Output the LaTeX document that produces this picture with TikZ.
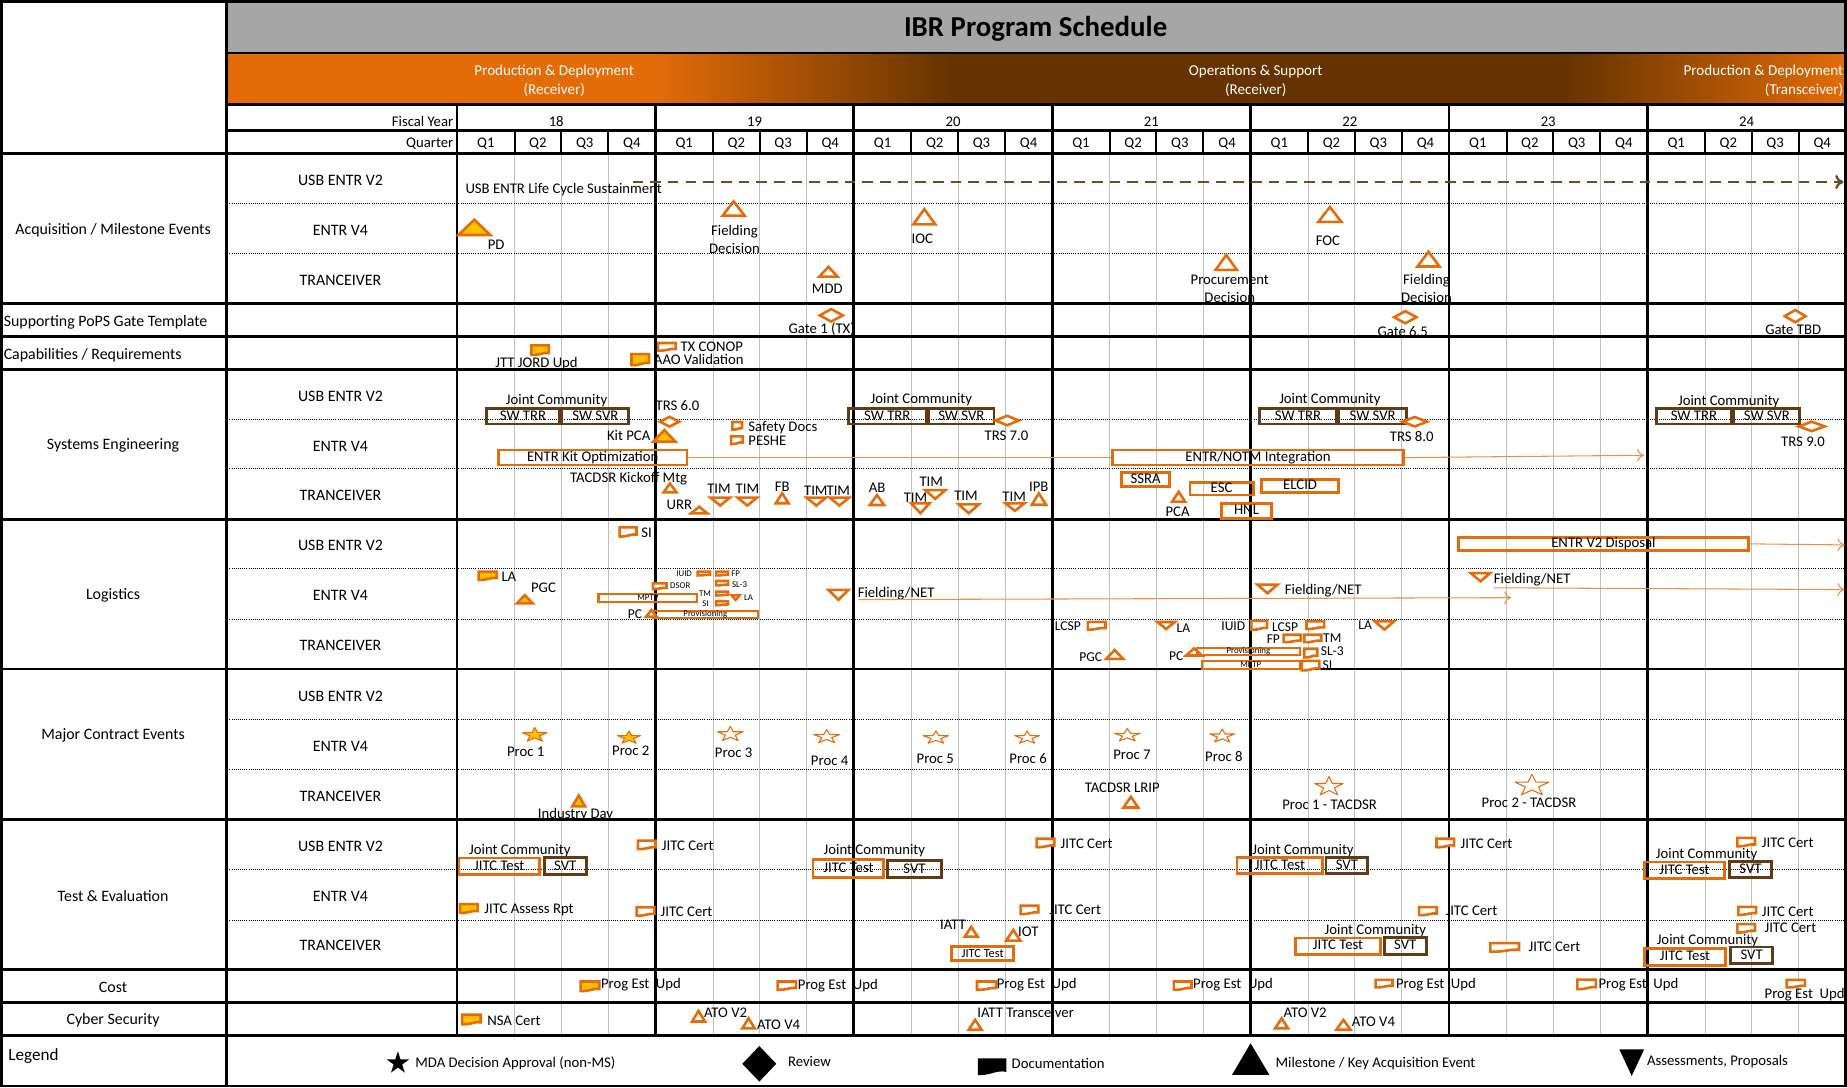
\documentclass[tikz,border=0pt]{standalone}
\usepackage{fontspec}
\setmainfont{Carlito}
\usetikzlibrary{arrows.meta}

\definecolor{mkorg}{HTML}{E46C0A}
\definecolor{mkyel}{HTML}{FFC000}
\definecolor{bandorg}{HTML}{E36C09}
\definecolor{bandbrn}{HTML}{663300}
\definecolor{boxbrn}{HTML}{633A14}
\definecolor{lcbrn}{HTML}{704A22}
\definecolor{ttlgray}{HTML}{A6A6A6}
\definecolor{qgray}{HTML}{C0C0C0}

\tikzset{
  thk/.style={line width=2.4pt},
  qsep/.style={line width=1.8pt},
  qline/.style={draw=qgray, line width=0.8pt},
  rowdots/.style={densely dotted, line width=0.8pt},
  hd/.style={font=\fontsize{13.5}{16}\selectfont, inner sep=0pt, yshift=-1.3pt},
  lbl/.style={font=\fontsize{12.5}{15.3}\selectfont, inner sep=0pt, align=center, yshift=-1.3pt},
  sml/.style={font=\fontsize{11.5}{13}\selectfont, inner sep=0pt, yshift=-1pt},
  tny/.style={font=\fontsize{7.5}{8}\selectfont, inner sep=0pt, yshift=-0.6pt},
  band/.style={font=\fontsize{12.8}{16}\selectfont, text=white, inner sep=0pt, yshift=-1.5pt},
  mk/.style={draw=mkorg, line width=2.2pt, fill=white, line join=miter},
  mkf/.style={mk, fill=mkyel},
  ev/.style={draw=mkorg, line width=0.9pt, fill=white, line join=round},
  evf/.style={ev, fill=mkyel},
  orgbox/.style={draw=mkorg, line width=2.2pt, inner sep=0pt, text height=8.5pt, text depth=2pt, font=\fontsize{12.5}{14}\selectfont},
  brnbox/.style={draw=boxbrn, line width=2.4pt, inner sep=0pt, text height=8.5pt, text depth=2pt, font=\fontsize{12.5}{14}\selectfont},
  tnybox/.style={draw=mkorg, line width=2pt, inner sep=0pt, text height=5pt, text depth=1pt, font=\fontsize{7.5}{8}\selectfont},
  link/.style={draw=mkorg!75, line width=0.9pt},
  linkarr/.style={link, -{To[length=6pt,width=11pt]}},
  upm/.pic={\draw[mk] (-9,6) -- (9,6) -- (0,-6) -- cycle;},
  upf/.pic={\draw[mkf] (-9,6) -- (9,6) -- (0,-6) -- cycle;},
  dnm/.pic={\draw[mk] (-8.5,-4) -- (8.5,-4) -- (0,4) -- cycle;},
  revm/.pic={\draw[mk] (-10.5,0) -- (0,-5.5) -- (10.5,0) -- (0,5.5) -- cycle;},
  docm/.pic={\draw[mk] (-7.5,-3.5) -- (7.5,-3.5) -- (7.5,2.5) .. controls (3,1.5) and (0,4.5) .. (-7.5,4) -- cycle;},
  docf/.pic={\draw[mkf] (-7.5,-3.5) -- (7.5,-3.5) -- (7.5,2.5) .. controls (3,1.5) and (0,4.5) .. (-7.5,4) -- cycle;},
  starm/.pic={\draw[ev, yscale=0.58] (270:11) -- (306:4.2) -- (342:11) -- (18:4.2) -- (54:11) -- (90:4.2) -- (126:11) -- (162:4.2) -- (198:11) -- (234:4.2) -- cycle;},
  starf/.pic={\draw[evf, yscale=0.58] (270:11) -- (306:4.2) -- (342:11) -- (18:4.2) -- (54:11) -- (90:4.2) -- (126:11) -- (162:4.2) -- (198:11) -- (234:4.2) -- cycle;}
}

\begin{document}
\begin{tikzpicture}[x=1pt,y=-1pt]
\useasboundingbox (0,0) rectangle (1568,923);

\fill[ttlgray] (192,0) rectangle (1567,45);
\fill[bandorg] (192,45) rectangle (556.5,89);
\shade[left color=bandorg, right color=bandbrn] (556,45) rectangle (807.5,89);
\fill[bandbrn] (807,45) rectangle (1329.5,89);
\shade[left color=bandbrn, right color=bandorg] (1329,45) rectangle (1567,89);

\foreach \yr [count=\i from 0] in {18,...,24} {
  \pgfmathsetmacro\ys{388+\i*168.43}
  \foreach \f in {0.29,0.525,0.762} {
    \draw[qline] ({\ys+\f*168.43},130) -- ({\ys+\f*168.43},879);
    \draw[qsep] ({\ys+\f*168.43},111) -- ({\ys+\f*168.43},130);
  }
  \draw[thk] (\ys,89) -- (\ys,879);
  \node[lbl] (fy\yr) at ({\ys+84.2},102) {\yr};
  \foreach \q/\fa/\fb in {1/0/0.29,2/0.29/0.525,3/0.525/0.762,4/0.762/1}
    \node[lbl] (q\yr\q) at ({\ys+(\fa+\fb)*84.215},121) {Q\q};
}

\foreach \yy in {173,215,356,398,483,526,611,653,738,781}
  \draw[rowdots] (193,\yy) -- (1567,\yy);

\draw[thk] (1,1) rectangle (1567,922);
\draw[thk] (192,0) -- (192,923);
\draw[thk] (192,45) -- (1567,45);
\draw[thk] (192,89) -- (1567,89);
\draw[thk] (192,111) -- (1567,111);
\foreach \yy in {130,258,286,314,441,568,696,823,851,879}
  \draw[thk] (0,\yy) -- (1568,\yy);

\node[font=\bfseries\fontsize{24.5}{28}\selectfont, inner sep=0pt] (ttl) at (879.2,24.5) {IBR Program Schedule};
\node[band, align=center] (ph1) at (470.5,67) {Production \& Deployment\\(Receiver)};
\node[band, align=center] (ph2) at (1066,67) {Operations \& Support\\(Receiver)};
\node[band, align=right, anchor=east] (ph3) at (1565,67) {Production \& Deployment\\(Transceiver)};
\node[lbl, anchor=east] (fyl) at (385,102) {Fiscal Year};
\node[lbl, anchor=east] (qtl) at (385,121) {Quarter};

\node[hd] (acq) at (96,194) {Acquisition / Milestone Events};
\node[hd, anchor=west] (pops) at (3,272) {Supporting PoPS Gate Template};
\node[hd, anchor=west] (caps) at (3,300) {Capabilities / Requirements};
\node[hd] (se) at (96,377) {Systems Engineering};
\node[hd] (logi) at (96,504) {Logistics};
\node[hd] (mce) at (96,623) {Major Contract Events};
\node[hd] (te) at (96,759) {Test \& Evaluation};
\node[hd] (cost) at (96,837) {Cost};
\node[hd] (cyb) at (96,865) {Cyber Security};
\node[font=\fontsize{14.5}{16}\selectfont, inner sep=0pt, anchor=west] (leg) at (7,896.5) {Legend};

\foreach \s/\yy in {a/152,s/335,l/462,m/590,t/717} {
  \node[hd] (usb\s) at (289,\yy) {USB ENTR V2};
  \node[hd] (v4\s) at (289,{\yy+42.3}) {ENTR V4};
  \node[hd] (trx\s) at (289,{\yy+84.6}) {TRANCEIVER};
}

\node[lbl, anchor=west] (lcsus) at (395,160) {USB ENTR Life Cycle Sustainment};
\coordinate (lc0) at (537,154.5);
\coordinate (lc1) at (1565,154.5);
\draw[draw=lcbrn, line width=2pt, dash pattern=on 9pt off 6pt, -{To[length=7pt,width=12pt]}] (lc0) -- (lc1);

\pic[xscale=1.5, yscale=1.08] (pd) at (402.7,193) {upf};
\node[lbl] (pdl) at (421.2,206.6) {PD};
\pic[xscale=1.03] (fd) at (622.8,177) {upm};
\node[lbl] (fdl) at (623.5,202.3) {Fielding\\Decision};
\pic[xscale=1.04, yscale=1.08] (ioc) at (784.7,184) {upm};
\node[lbl] (iocl) at (782.9,201.5) {IOC};
\pic[xscale=1.08, yscale=1.05] (foc) at (1129,182) {upm};
\node[lbl] (focl) at (1127.3,203.2) {FOC};
\pic[xscale=0.87, yscale=0.7] (mdd) at (703.3,230.7) {upm};
\node[lbl] (mddl) at (702.3,243.9) {MDD};
\pic[yscale=1.05] (prd) at (1041,222.8) {upm};
\node[lbl] (prdl) at (1044,243.6) {Procurement\\Decision};
\pic[xscale=1.04, yscale=1.04] (fdt) at (1212.7,220) {upm};
\node[lbl] (fdtl) at (1211,243.8) {Fielding\\Decision};

\pic[xscale=0.93, yscale=0.96] (g1) at (705.7,267.7) {revm};
\node[lbl] (g1l) at (697.6,277.9) {Gate 1 (TX)};
\pic[xscale=0.9, yscale=0.94] (g65) at (1193,269.3) {revm};
\node[lbl] (g65l) at (1190.8,280.4) {Gate 6.5};
\pic[xscale=0.84, yscale=0.94] (gtbd) at (1524,268.4) {revm};
\node[lbl] (gtbdl) at (1522.3,278.7) {Gate TBD};

\pic[yscale=1.07] (jord) at (458.5,297) {docf};
\node[lbl] (jordl) at (455.5,307) {JTT JORD Upd};
\pic[yscale=1.25] (aao) at (543.6,305) {docf};
\node[lbl, anchor=west] (aaol) at (555,303.6) {AAO Validation};
\pic[yscale=0.86] (txc) at (566.2,294.2) {docm};
\node[lbl, anchor=west] (txcl) at (577.5,293.4) {TX CONOP};

\node[lbl] (jcs1) at (472.5,339) {Joint Community};
\node[brnbox, minimum width=61.8pt, minimum height=12.8pt] (trr1) at (444,353.5) {SW TRR};
\node[brnbox, minimum width=56.8pt, minimum height=12.8pt] (svr1) at (505.5,353.5) {SW SVR};
\node[lbl] (jcs2) at (782.2,338.2) {Joint Community};
\node[brnbox, minimum width=65.6pt, minimum height=12.8pt] (trr2) at (753.3,353.5) {SW TRR};
\node[brnbox, minimum width=55.6pt, minimum height=12.8pt] (svr2) at (816.1,353.5) {SW SVR};
\node[lbl] (jcs3) at (1129,338.2) {Joint Community};
\node[brnbox, minimum width=64.9pt, minimum height=12.8pt] (trr3) at (1101.9,353.5) {SW TRR};
\node[brnbox, minimum width=57.5pt, minimum height=12.8pt] (svr3) at (1165.3,353.5) {SW SVR};
\node[lbl] (jcs4) at (1467.6,339.6) {Joint Community};
\node[brnbox, minimum width=63.9pt, minimum height=12.8pt] (trr4) at (1438,353.5) {SW TRR};
\node[brnbox, minimum width=55.8pt, minimum height=12.8pt] (svr4) at (1500,353.5) {SW SVR};

\node[lbl] (trs6l) at (575.1,343.2) {TRS 6.0};
\pic[xscale=0.78, yscale=0.75] (trs6) at (568.4,358) {revm};
\pic[xscale=0.95, yscale=0.73] (trs7) at (855,357) {revm};
\node[lbl] (trs7l) at (854.4,368.7) {TRS 7.0};
\pic[yscale=0.73] (trs8) at (1201,358) {revm};
\node[lbl] (trs8l) at (1198.5,369.3) {TRS 8.0};
\pic[xscale=1.05, yscale=0.73] (trs9) at (1538,362) {revm};
\node[lbl] (trs9l) at (1530.7,373.5) {TRS 9.0};

\node[lbl, anchor=east] (kpcal) at (552.3,368.4) {Kit PCA};
\pic[xscale=1.04, yscale=0.82] (kpca) at (564,370) {upf};
\pic[xscale=0.55, yscale=0.86] (sfd) at (625.8,361.3) {docm};
\node[lbl, anchor=west] (sfdl) at (635.2,361.4) {Safety Docs};
\pic[xscale=0.66, yscale=0.86] (psh) at (625.6,373.5) {docm};
\node[lbl, anchor=west] (pshl) at (635.2,372.7) {PESHE};

\node[orgbox, minimum width=159.8pt, minimum height=12.8pt] (kitopt) at (503.2,388.5) {ENTR Kit Optimization};
\node[orgbox, minimum width=247.3pt, minimum height=12.8pt] (notm) at (1068,388.5) {ENTR/NOTM Integration};
\coordinate (notmend) at (1395.8,386.5);
\draw[link] (kitopt.east) -- (notm.west);
\draw[linkarr] (notm.east) -- (notmend);

\node[lbl] (tkml) at (533.7,405.2) {TACDSR Kickoff Mtg};
\pic[xscale=0.61, yscale=0.63] (tkm) at (568.8,414.2) {upm};
\node[lbl] (urrl) at (576.8,427.3) {URR};
\pic[xscale=0.77, yscale=0.46] (urr) at (593.6,433) {upm};
\pic[xscale=0.97, yscale=0.84] (tim1) at (611.4,425.8) {dnm};
\node[lbl] (tim1l) at (610.4,413.7) {TIM};
\pic[xscale=0.97, yscale=0.84] (tim2) at (634.4,425.8) {dnm};
\node[lbl] (tim2l) at (634.5,413.7) {TIM};
\pic[xscale=0.6, yscale=0.7] (fb) at (664,423) {upm};
\node[lbl] (fbl) at (664,411.7) {FB};
\pic[xscale=0.97, yscale=0.84] (tim3) at (693,425.8) {dnm};
\node[lbl] (tim3l) at (692.6,415.4) {TIM};
\pic[xscale=0.97, yscale=0.84] (tim4) at (712.6,425.8) {dnm};
\node[lbl] (tim4l) at (711.7,415.4) {TIM};
\pic[xscale=0.67, yscale=0.7] (ab) at (744.5,424.5) {upm};
\node[lbl] (abl) at (744.6,413.2) {AB};
\pic[xscale=0.91, yscale=1.04] (tim5) at (781.4,431.5) {dnm};
\node[lbl] (tim5l) at (777.2,421.6) {TIM};
\pic[yscale=0.92] (tim6) at (794,419.8) {dnm};
\node[lbl] (tim6l) at (790.6,408.1) {TIM};
\pic[yscale=0.94] (tim7) at (822.4,432) {dnm};
\node[lbl] (tim7l) at (820.1,419.4) {TIM};
\pic[xscale=0.94, yscale=0.79] (tim8) at (861.6,430.5) {dnm};
\node[lbl] (tim8l) at (861,420.2) {TIM};
\pic[xscale=0.67, yscale=0.8] (ipb) at (882,423.7) {upm};
\node[lbl] (ipbl) at (881.9,411.7) {IPB};

\node[orgbox, minimum width=40.8pt, minimum height=11.8pt] (ssra) at (972.5,407) {SSRA};
\pic[xscale=0.61, yscale=0.7] (pca) at (1000.6,421.7) {upm};
\node[lbl] (pcal) at (999.7,433.5) {PCA};
\node[orgbox, minimum width=53.8pt, minimum height=9.8pt] (esc) at (1037,415) {ESC};
\node[orgbox, minimum width=65.2pt, minimum height=11.2pt] (elcid) at (1103.7,412.7) {ELCID};
\node[orgbox, minimum width=42pt, minimum height=12.3pt] (hnl) at (1058.2,433.8) {HNL};

\pic[xscale=0.95, yscale=1.03] (si1) at (533.2,451.3) {docm};
\node[lbl] (si1l) at (549,451.4) {SI};
\node[orgbox, minimum width=246.2pt, minimum height=11.1pt] (v2disp) at (1361.2,461.7) {ENTR V2 Disposal};
\coordinate (v2end) at (1566,462.6);
\draw[linkarr] (v2disp.east) -- (v2end);

\pic[xscale=1.03, yscale=0.93] (la1) at (414,488.5) {docf};
\node[lbl] (la1l) at (432,488) {LA};
\node[lbl] (pgc1l) at (461.4,498) {PGC};
\pic[xscale=0.74, yscale=0.58] (pgc1) at (445.5,508.7) {upf};
\node[tnybox, minimum width=83.8pt, minimum height=6.8pt] (mptp1) at (550,507.5) {MPTP};
\node[tnybox, minimum width=89.4pt, minimum height=5.5pt] (prov1) at (598.8,521.7) {Provisioning};
\pic[xscale=0.7, yscale=0.43] (iuid1) at (597.5,486.8) {docm};
\node[tny] (iuid1l) at (580.8,486.1) {IUID};
\pic[xscale=0.68, yscale=0.43] (fp1) at (613,486.8) {docm};
\node[tny] (fp1l) at (624.5,486.5) {FP};
\pic[xscale=0.77, yscale=0.64] (dsor1) at (560,497.5) {docm};
\node[tny] (dsor1l) at (577.5,496.5) {DSOR};
\pic[xscale=0.68, yscale=0.5] (sl31) at (613,495) {docm};
\node[tny] (sl31l) at (627.8,495.5) {SL-3};
\pic[xscale=0.68, yscale=0.43] (tm1) at (613,503.8) {docm};
\node[tny] (tm1l) at (598.6,503) {TM};
\pic[xscale=0.41, yscale=0.5] (la2) at (624.5,507.2) {dnm};
\node[tny] (la2l) at (635.5,507) {LA};
\pic[xscale=0.68, yscale=0.45] (si2) at (613,512) {docm};
\node[tny] (si2l) at (599,512) {SI};
\node[sml] (pc1l) at (539,520.7) {PC};
\pic[xscale=0.5, yscale=0.47] (pc1) at (553,520.7) {upm};

\pic[yscale=1.05] (fn1) at (711.8,505) {dnm};
\node[lbl, anchor=west] (fn1l) at (728,503) {Fielding/NET};
\coordinate (fn1a) at (729,509);
\coordinate (fn1b) at (1283,507.4);
\draw[linkarr] (fn1a) -- (fn1b);
\pic[yscale=0.92] (fn2) at (1076,500) {dnm};
\node[lbl, anchor=west] (fn2l) at (1090.6,500) {Fielding/NET};
\pic[xscale=0.97, yscale=0.87] (fn3) at (1256.8,490) {dnm};
\node[lbl, anchor=west] (fn3l) at (1268,491) {Fielding/NET};
\coordinate (fn3a) at (1268,499);
\coordinate (fn3b) at (1566,500.5);
\draw[linkarr] (fn3a) -- (fn3b);

\node[sml] (lcsp1l) at (906.5,530.6) {LCSP};
\pic[yscale=0.86] (lcsp1) at (931,531) {docm};
\pic[xscale=0.88, yscale=0.75] (la3) at (990,531) {dnm};
\node[sml] (la3l) at (1004.7,532) {LA};
\node[sml] (pgc2l) at (926,556.9) {PGC};
\pic[xscale=0.8, yscale=0.62] (pgc2) at (946.3,555.6) {upm};
\node[sml] (pc2l) at (998.5,556) {PC};
\pic[xscale=0.75, yscale=0.5] (pc2) at (1013.7,553.5) {upm};
\node[tnybox, minimum width=87.3pt, minimum height=6.2pt] (prov2) at (1059.8,553.2) {Provisioning};
\node[tnybox, minimum width=83.3pt, minimum height=6.8pt] (mptp2) at (1061.8,564.5) {MPTP};
\node[sml] (iuid2l) at (1047,530.6) {IUID};
\pic[xscale=0.9] (iuid2) at (1069,530.6) {docm};
\node[sml] (lcsp2l) at (1091,531.4) {LCSP};
\pic[yscale=0.86] (lcsp2) at (1116.6,530.5) {docm};
\node[sml] (la4l) at (1159,529.7) {LA};
\pic[xscale=0.96, yscale=0.87] (la4) at (1175.3,531) {dnm};
\node[sml] (fp2l) at (1081,541.3) {FP};
\pic[xscale=0.97, yscale=0.84] (fp2) at (1097,541.8) {docm};
\pic[xscale=0.97, yscale=0.84] (tm2) at (1114.5,541.8) {docm};
\node[sml] (tm2l) at (1131,541) {TM};
\pic[xscale=0.74, yscale=0.98] (sl32) at (1112.8,554.2) {docm};
\node[sml] (sl32l) at (1131,551.6) {SL-3};
\pic[yscale=1.07] (si3) at (1112.5,564.8) {docm};
\node[sml] (si3l) at (1127,564) {SI};

\pic (p1) at (454,624) {starf};
\node[lbl] (p1l) at (446.3,636.7) {Proc 1};
\pic[xscale=0.93, yscale=0.9] (p2) at (534,626.3) {starf};
\node[lbl] (p2l) at (535.5,636) {Proc 2};
\pic[xscale=1.03, yscale=1.05] (p3) at (620,623.3) {starm};
\node[lbl] (p3l) at (622.8,638) {Proc 3};
\pic[xscale=1.05, yscale=0.95] (p4) at (701.8,625.5) {starm};
\node[lbl] (p4l) at (704.3,644.6) {Proc 4};
\pic[xscale=1.03, yscale=0.9] (p5) at (794.5,626.3) {starm};
\node[lbl] (p5l) at (794,643) {Proc 5};
\pic[yscale=0.9] (p6) at (872,626.3) {starm};
\node[lbl] (p6l) at (872.8,642.4) {Proc 6};
\pic[xscale=1.05, yscale=0.9] (p7) at (957,624.3) {starm};
\node[lbl] (p7l) at (961,639.5) {Proc 7};
\pic[yscale=0.95] (p8) at (1037.6,625) {starm};
\node[lbl] (p8l) at (1039,641) {Proc 8};
\node[lbl] (indl) at (488.6,689.9) {Industry Day};
\pic[xscale=0.61, yscale=0.77] (ind) at (491.3,680) {upf};
\node[lbl] (lripl) at (952.7,667.8) {TACDSR LRIP};
\pic[xscale=0.69, yscale=0.75] (lrip) at (960,681) {upm};
\pic[xscale=1.15, yscale=1.35] (pt1) at (1128.2,667.8) {starm};
\node[lbl] (pt1l) at (1128.7,682) {Proc 1 - TACDSR};
\pic[xscale=1.37, yscale=1.5] (pt2) at (1300.5,667) {starm};
\node[lbl] (pt2l) at (1298,680) {Proc 2 - TACDSR};

\node[lbl] (jct1) at (441.3,721) {Joint Community};
\node[orgbox, minimum width=68.2pt, minimum height=14.2pt] (jt1) at (423.8,735.4) {JITC Test};
\node[brnbox, minimum width=36pt, minimum height=14.2pt] (svt1) at (479.9,735.4) {SVT};
\pic[yscale=0.95] (crt1) at (549,717) {docm};
\node[lbl, anchor=west] (crt1l) at (561.7,716.8) {JITC Cert};
\node[lbl] (jct2) at (742.3,721) {Joint Community};
\node[orgbox, minimum width=59.9pt, minimum height=15.4pt] (jt2) at (720.3,737.4) {JITC Test};
\node[brnbox, minimum width=46.4pt, minimum height=14.5pt] (svt2) at (776.3,737.9) {SVT};
\pic[yscale=0.95] (crt2) at (887.5,715.4) {docm};
\node[lbl, anchor=west] (crt2l) at (900.3,715.3) {JITC Cert};
\node[lbl] (jct3) at (1106.2,721) {Joint Community};
\node[orgbox, minimum width=72.8pt, minimum height=13.9pt] (jt3) at (1086.5,734.8) {JITC Test};
\node[brnbox, minimum width=35.4pt, minimum height=13.9pt] (svt3) at (1143.4,734.8) {SVT};
\pic[yscale=0.95] (crt3) at (1227,715.4) {docm};
\node[lbl, anchor=west] (crt3l) at (1239.8,715) {JITC Cert};
\pic[yscale=0.95] (crt4) at (1482.4,714.6) {docm};
\node[lbl, anchor=west] (crt4l) at (1495.5,714.5) {JITC Cert};
\node[lbl] (jct4) at (1448.8,724.4) {Joint Community};
\node[orgbox, minimum width=68.3pt, minimum height=14.2pt] (jt4) at (1430,738.8) {JITC Test};
\node[brnbox, minimum width=35.8pt, minimum height=13.8pt] (svt4) at (1486,738) {SVT};

\pic (jar) at (398,771) {docf};
\node[lbl, anchor=west] (jarl) at (411,771.1) {JITC Assess Rpt};
\pic[yscale=0.95] (crt5) at (548,773.5) {docm};
\node[lbl, anchor=west] (crt5l) at (560.7,772.5) {JITC Cert};
\pic[yscale=0.95] (crt6) at (874,772.2) {docm};
\node[lbl, anchor=west] (crt6l) at (890.6,771.3) {JITC Cert};
\pic[yscale=0.9] (crt7) at (1212.2,773.3) {docm};
\node[lbl, anchor=west] (crt7l) at (1227,772) {JITC Cert};
\pic[yscale=0.9] (crt8) at (1483.3,773) {docm};
\node[lbl, anchor=west] (crt8l) at (1495.5,772.5) {JITC Cert};
\pic[yscale=0.95] (crt9) at (1482.4,787.8) {docm};
\node[lbl, anchor=west] (crt9l) at (1497.8,786.7) {JITC Cert};

\node[lbl] (iattl) at (809,783.8) {IATT};
\pic[xscale=0.61, yscale=0.7] (iatt) at (824.5,791) {upm};
\pic[xscale=0.67, yscale=0.75] (iot) at (860.2,794) {upm};
\node[lbl] (iotl) at (873,790) {IOT};
\node[orgbox, font=\fontsize{10.5}{12}\selectfont, minimum width=52.8pt, minimum height=11.7pt] (jt5) at (834.2,809.5) {JITC Test};
\node[lbl] (jct5) at (1167.6,789) {Joint Community};
\node[orgbox, minimum width=72.6pt, minimum height=14.1pt] (jt6) at (1135.9,803.2) {JITC Test};
\node[brnbox, minimum width=35.8pt, minimum height=14.1pt] (svt5) at (1193,803.2) {SVT};
\pic[xscale=1.62, yscale=0.97] (crt10) at (1277.4,804) {docm};
\node[lbl, anchor=west] (crt10l) at (1297.5,802.8) {JITC Cert};
\node[lbl] (jct6) at (1449.5,797.4) {Joint Community};
\node[orgbox, minimum width=69pt, minimum height=14.2pt] (jt7) at (1430.4,812.4) {JITC Test};
\node[brnbox, minimum width=35.8pt, minimum height=14.2pt] (svt6) at (1487,811) {SVT};

\pic[xscale=1.06, yscale=1.07] (pe1) at (500.8,837) {docf};
\node[lbl, anchor=west] (pe1l) at (510.1,835) {Prog Est\ \ Upd};
\pic[xscale=1.05, yscale=0.93] (pe2) at (668,836.5) {docm};
\node[lbl, anchor=west] (pe2l) at (677.2,835.3) {Prog Est\ \ Upd};
\pic[xscale=1.09, yscale=0.93] (pe3) at (837.6,836.5) {docm};
\node[lbl, anchor=west] (pe3l) at (846,835) {Prog Est\ \ Upd};
\pic[yscale=0.93] (pe4) at (1004,836.5) {docm};
\node[lbl, anchor=west] (pe4l) at (1012.7,835) {Prog Est\ \ Upd};
\pic[xscale=0.95, yscale=0.86] (pe5) at (1175,834.8) {docm};
\node[lbl, anchor=west] (pe5l) at (1185,834.8) {Prog Est\ \ Upd};
\pic[xscale=1.05, yscale=1.07] (pe6) at (1346.9,835.4) {docm};
\node[lbl, anchor=west] (pe6l) at (1356.9,835) {Prog Est\ \ Upd};
\pic[xscale=1.02, yscale=0.86] (pe7) at (1524.5,834.8) {docm};
\node[lbl] (pe7l) at (1532,843.2) {Prog Est\ \ Upd};

\pic[xscale=1.06, yscale=1.07] (nsa) at (400.2,865.2) {docf};
\node[lbl, anchor=west] (nsal) at (413.5,865.3) {NSA Cert};
\pic[xscale=0.61, yscale=0.75] (ato1) at (593,862.7) {upm};
\node[lbl] (ato1l) at (616,858.8) {ATO V2};
\pic[xscale=0.58, yscale=0.7] (ato2) at (635.5,868.7) {upm};
\node[lbl] (ato2l) at (661,868.7) {ATO V4};
\node[lbl] (iatttl) at (870.7,858) {IATT Transceiver};
\pic[xscale=0.61, yscale=0.7] (iattt) at (827.8,870) {upm};
\pic[xscale=0.61, yscale=0.7] (ato3) at (1088,868.7) {upm};
\node[lbl] (ato3l) at (1108,858.8) {ATO V2};
\pic[xscale=0.67, yscale=0.7] (ato4) at (1140.5,870) {upm};
\node[lbl] (ato4l) at (1166,866.5) {ATO V4};

\fill[shift={(337.8,902.5)}] (270:10) -- (306:3.8) -- (342:10) -- (18:3.8) -- (54:10) -- (90:3.8) -- (126:10) -- (162:3.8) -- (198:10) -- (234:3.8) -- cycle;
\node[lbl, anchor=west] (legmda) at (352.4,901.3) {MDA Decision Approval (non-MS)};
\fill (644.6,888) -- (659,903.1) -- (644.6,918.2) -- (630.2,903.1) -- cycle;
\node[lbl, anchor=west] (legrev) at (668.8,899.9) {Review};
\fill (830.2,898.4) -- (854.3,898.4) -- (854.3,910) .. controls (846,908) and (840,913.5) .. (830.2,912.6) -- cycle;
\node[lbl, anchor=west] (legdoc) at (858.7,901.3) {Documentation};
\fill (1061.7,885.7) -- (1077.7,912.6) -- (1045.8,912.6) -- cycle;
\node[lbl, anchor=west] (legms) at (1082.7,901.9) {Milestone / Key Acquisition Event};
\fill (1374.7,890.8) -- (1395.8,890.8) -- (1385.2,913.4) -- cycle;
\node[lbl, anchor=west] (legas) at (1398,899.9) {Assessments, Proposals};
\end{tikzpicture}
\end{document}
